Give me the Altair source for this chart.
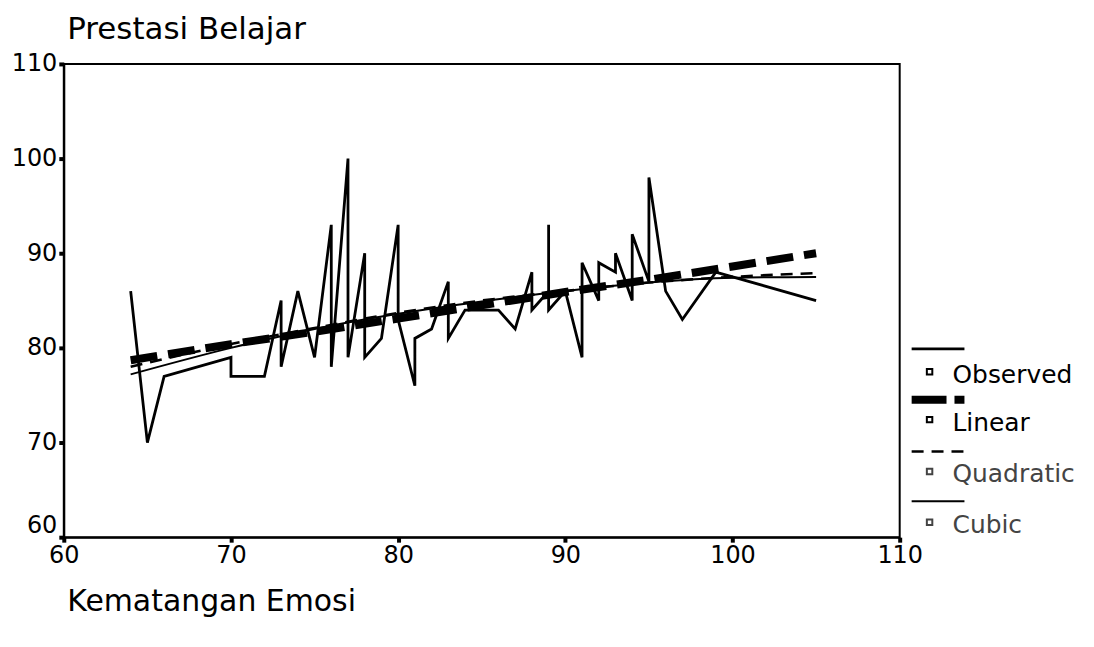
import altair as alt
import pandas as pd

# ---- data ----
obs_x = [64, 65, 66, 70, 70, 72, 73, 73, 74, 75, 76, 76, 77, 77, 78, 78, 79, 80, 80,
         81, 81, 82, 83, 83, 84, 86, 87, 88, 88, 89, 89, 89, 90, 91, 91, 92, 92, 93, 93,
         94, 94, 95, 95, 96, 97, 99, 105]
obs_y = [86, 70, 77, 79, 77, 77, 85, 78, 86, 79, 93, 78, 100, 79, 90, 79, 81, 93, 83,
         76, 81, 82, 87, 81, 84, 84, 82, 88, 84, 86, 93, 84, 86, 79, 89, 85, 89, 88, 90,
         85, 92, 87, 98, 86, 83, 88, 85]

fit_x = [64, 70, 75, 80, 85, 90, 95, 100, 105]
linear_y = [78.7, 80.4, 81.7, 83.1, 84.5, 85.9, 87.2, 88.6, 90.0]
quadratic_y = [78.0, 80.4, 82.1, 83.7, 85.0, 86.0, 86.9, 87.5, 87.9]
cubic_y = [77.2, 80.0, 82.0, 83.6, 84.9, 86.0, 86.9, 87.4, 87.5]

x_ticks = [60, 70, 80, 90, 100, 110]
y_ticks = [60, 70, 80, 90, 100, 110]
legend_labels = ["Observed", "Linear", "Quadratic", "Cubic"]
legend_colors = ["#000000", "#000000", "#444444", "#444444"]

FONT = "DejaVu Sans"

obs_df = pd.DataFrame({"x": obs_x, "y": obs_y, "idx": list(range(len(obs_x)))})
fit_df = pd.DataFrame({"x": fit_x, "lin": linear_y, "quad": quadratic_y, "cub": cubic_y})

xs = alt.Scale(domain=[60, 110], nice=False, zero=False)
ys = alt.Scale(domain=[60, 110], nice=False, zero=False)

x_axis = alt.Axis(
    values=x_ticks, grid=False, labelFlush=False, labelFont=FONT, labelFontSize=24,
    labelColor="black", labelPadding=1, tickSize=5, tickWidth=4, tickColor="black",
    domainColor="black", domainWidth=2,
    title="Kematangan Emosi", titleFont=FONT, titleFontSize=30, titleFontWeight="normal",
    titleColor="black", titleAnchor="start", titleAlign="left", titleBaseline="alphabetic",
    titleX=3, titleY=74,
)
y_axis = alt.Axis(
    values=y_ticks, grid=False, labelFlush=False, labelFont=FONT, labelFontSize=24,
    labelColor="black", labelPadding=2, tickSize=5, tickWidth=4, tickColor="black",
    labelBaseline={"condition": {"test": "datum.value <= 60", "value": "bottom"}, "value": "middle"},
    domainColor="black", domainWidth=2,
    title="Prestasi Belajar", titleFont=FONT, titleFontSize=31, titleFontWeight="normal",
    titleColor="black", titleAngle=0, titleAnchor="start", titleAlign="left",
    titleBaseline="alphabetic", titleX=3, titleY=-26,
)

observed = alt.Chart(obs_df).mark_line(color="black", strokeWidth=2.8).encode(
    x=alt.X("x:Q", scale=xs, axis=x_axis),
    y=alt.Y("y:Q", scale=ys, axis=y_axis),
    order=alt.Order("idx:Q"),
)

cubic = alt.Chart(fit_df).mark_line(color="black", strokeWidth=2, interpolate="monotone").encode(
    x=alt.X("x:Q", scale=xs), y=alt.Y("cub:Q", scale=ys)
)
quadratic = alt.Chart(fit_df).mark_line(
    color="black", strokeWidth=2.6, strokeDash=[12, 8], interpolate="monotone"
).encode(x=alt.X("x:Q", scale=xs), y=alt.Y("quad:Q", scale=ys))
linear = alt.Chart(fit_df).mark_line(color="black", strokeWidth=8, strokeDash=[27, 11]).encode(
    x=alt.X("x:Q", scale=xs), y=alt.Y("lin:Q", scale=ys)
)

# ---- hand-built legend at the right of the plot ----
leg_line_y = [286, 337, 389, 439]
leg_row_y = [312, 360, 412, 463]
leg_dash = [None, [35, 8], [12, 8], None]
leg_width = [2.6, 8, 2.6, 2]
legend_layers = []
for i, lab in enumerate(legend_labels):
    d = pd.DataFrame({"label": [lab]})
    rule_kwargs = dict(color="black", strokeWidth=leg_width[i])
    if leg_dash[i] is not None:
        rule_kwargs["strokeDash"] = leg_dash[i]
    legend_layers.append(
        alt.Chart(d).mark_rule(**rule_kwargs).encode(
            x=alt.value(851), x2=alt.value(904), y=alt.value(leg_line_y[i])
        )
    )
    legend_layers.append(
        alt.Chart(d).mark_point(shape="square", size=30, filled=False, strokeWidth=2,
                                color=legend_colors[i], opacity=1).encode(
            x=alt.value(869), y=alt.value(leg_row_y[i] - 3)
        )
    )
    legend_layers.append(
        alt.Chart(d).mark_text(align="left", baseline="middle", font=FONT, fontSize=25,
                               color=legend_colors[i]).encode(
            x=alt.value(892), y=alt.value(leg_row_y[i]), text="label:N"
        )
    )

chart = alt.layer(observed, cubic, quadratic, linear, *legend_layers).properties(
    width=839, height=475,
    autosize=alt.AutoSizeParams(type="none"),
    padding={"left": 56, "top": 55, "right": 187, "bottom": 90},
    background="white",
).configure_view(stroke="black", strokeWidth=2)

chart.save("out.html", embed_options={"renderer": "svg", "actions": False})
